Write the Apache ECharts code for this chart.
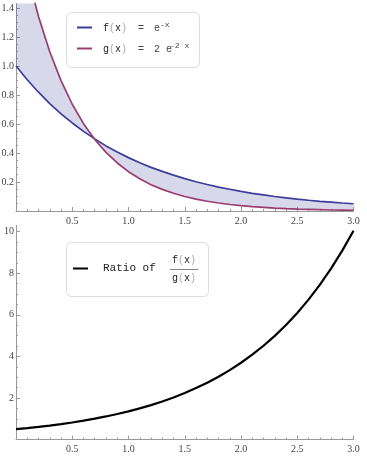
<!DOCTYPE html>
<html>
<head>
<meta charset="utf-8">
<script src="https://cdn.jsdelivr.net/npm/echarts@6/dist/echarts.min.js"></script>
<style>
html,body{margin:0;padding:0;background:#fff;}
#main{width:367px;height:461px;}
</style>
</head>
<body>
<div id="main"></div>
<script>
// x positions (read every 0.1)
var xValues = [0,0.1,0.2,0.3,0.4,0.5,0.6,0.7,0.8,0.9,1.0,1.1,1.2,1.3,1.4,1.5,1.6,1.7,1.8,1.9,2.0,2.1,2.2,2.3,2.4,2.5,2.6,2.7,2.8,2.9,3.0];
// f(x) = e^-x
var fValues = [1.000,0.905,0.819,0.741,0.670,0.607,0.549,0.497,0.449,0.407,0.368,0.333,0.301,0.273,0.247,0.223,0.202,0.183,0.165,0.150,0.135,0.122,0.111,0.100,0.091,0.082,0.074,0.067,0.061,0.055,0.050];
// g(x) = 2 e^-2x
var gValues = [2.000,1.637,1.341,1.098,0.899,0.736,0.602,0.493,0.404,0.331,0.271,0.222,0.181,0.149,0.122,0.100,0.082,0.067,0.055,0.045,0.037,0.030,0.025,0.020,0.016,0.013,0.011,0.009,0.007,0.006,0.005];
// ratio f/g
var ratioValues = [0.500,0.553,0.611,0.675,0.746,0.824,0.911,1.007,1.113,1.230,1.359,1.502,1.660,1.835,2.028,2.241,2.476,2.737,3.025,3.343,3.695,4.083,4.513,4.987,5.512,6.091,6.732,7.439,8.222,9.087,10.043];

// tick values
var topMajorTicks = [0.2,0.4,0.6,0.8,1.0,1.2,1.4];
var topMinorTicks = [0.05,0.1,0.15,0.25,0.3,0.35,0.45,0.5,0.55,0.65,0.7,0.75,0.85,0.9,0.95,1.05,1.1,1.15,1.25,1.3,1.35];
var bottomMajorTicks = [2,4,6,8,10];
var bottomMinorTicks = [0.5,1,1.5,2.5,3,3.5,4.5,5,5.5,6.5,7,7.5,8.5,9,9.5];

var blue = '#3d3d99';
var purple = '#993d71';
var axisColor = '#999999';
var labelFont = '"Liberation Serif", "DejaVu Serif", serif';
var monoFont = '"Liberation Mono", monospace';

function pairs(xs, ys){ return xs.map(function(x,i){ return [x, ys[i]]; }); }

var chart = echarts.init(document.getElementById('main'), null, {renderer:'canvas'});

function xAxisDef(gi){
  return {
    type:'value', gridIndex:gi, min:0, max:3, interval:0.5,
    axisLine:{show:true, onZero:false, lineStyle:{color:axisColor, width:1}},
    axisTick:{show:true, inside:true, length:4, lineStyle:{color:axisColor}},
    minorTick:{show:true, splitNumber:5, length:2, lineStyle:{color:axisColor}},
    splitLine:{show:false}, minorSplitLine:{show:false},
    axisLabel:{margin:5, fontFamily:labelFont, fontSize:10, color:'#444',
      formatter:function(v){ return v===0 ? '' : v.toFixed(1); }}
  };
}
function yMajor(gi, max, ticks, fmt){
  return {
    type:'value', gridIndex:gi, min:0, max:max,
    axisLine:{show:true, onZero:false, lineStyle:{color:axisColor, width:1}},
    axisTick:{show:true, inside:true, length:4, customValues:ticks, lineStyle:{color:axisColor}},
    splitLine:{show:false},
    axisLabel:{margin:2, fontFamily:labelFont, fontSize:10, color:'#444', customValues:ticks, formatter:fmt}
  };
}
function yMinor(gi, max, ticks){
  return {
    type:'value', gridIndex:gi, min:0, max:max, position:'left',
    axisLine:{show:false},
    axisTick:{show:true, inside:true, length:2, customValues:ticks, lineStyle:{color:axisColor}},
    splitLine:{show:false},
    axisLabel:{show:false}
  };
}

var richParen = {a:{fontFamily:monoFont, fontSize:10, fill:'#222'}, p:{fontFamily:monoFont, fontSize:10, fill:'#aaa'}};

var option = {
  animation:false,
  backgroundColor:'#fff',
  grid:[
    {left:16, top:3.6, width:337.5, height:207.4, containLabel:false, outerBoundsMode:'none'},
    {left:16, top:225.4, width:337.5, height:214.2, containLabel:false, outerBoundsMode:'none'}
  ],
  xAxis:[xAxisDef(0), xAxisDef(1)],
  yAxis:[
    yMajor(0, 1.43, topMajorTicks, function(v){ return v.toFixed(1); }),
    yMinor(0, 1.43, topMinorTicks),
    yMajor(1, 10.3, bottomMajorTicks, function(v){ return String(Math.round(v)); }),
    yMinor(1, 10.3, bottomMinorTicks)
  ],
  series:[
    {
      type:'custom', xAxisIndex:0, yAxisIndex:0, clip:true, z:1, silent:true,
      data:[[0,0]],
      renderItem:function(params, api){
        if (params.dataIndex !== 0) return null;
        var pts = [];
        for (var i=0;i<xValues.length;i++) pts.push(api.coord([xValues[i], fValues[i]]));
        for (var j=xValues.length-1;j>=0;j--) pts.push(api.coord([xValues[j], gValues[j]]));
        return {type:'polygon', shape:{points:pts}, style:{fill:'rgba(61,61,153,0.2)'}};
      }
    },
    {type:'line', xAxisIndex:0, yAxisIndex:0, data:pairs(xValues,fValues), showSymbol:false, symbol:'none', z:3,
      lineStyle:{color:blue, width:1.7}, clip:true},
    {type:'line', xAxisIndex:0, yAxisIndex:0, data:pairs(xValues,gValues), showSymbol:false, symbol:'none', z:3,
      lineStyle:{color:purple, width:1.7}, clip:true},
    {type:'line', xAxisIndex:1, yAxisIndex:2, data:pairs(xValues,ratioValues), showSymbol:false, symbol:'none', z:3,
      lineStyle:{color:'#000', width:2.2}, clip:false}
  ],
  graphic:[
    // top legend
    {type:'rect', z:10, shape:{x:66.5, y:12.5, width:133, height:55, r:5}, style:{fill:'#fff', stroke:'#dddddd', lineWidth:1}},
    {type:'line', z:11, shape:{x1:77, y1:27.5, x2:92, y2:27.5}, style:{stroke:blue, lineWidth:2}},
    {type:'line', z:11, shape:{x1:77, y1:48.5, x2:92, y2:48.5}, style:{stroke:purple, lineWidth:2}},
    {type:'text', z:11, style:{x:103, y:28, text:'{a|f}{p|(}{a|x}{p|)}', verticalAlign:'middle', rich:richParen}},
    {type:'text', z:11, style:{x:138, y:28, text:'=', fontFamily:monoFont, fontSize:10, fill:'#444', verticalAlign:'middle'}},
    {type:'text', z:11, style:{x:154, y:28, text:'e', fontFamily:monoFont, fontSize:10, fill:'#444', verticalAlign:'middle'}},
    {type:'text', z:11, style:{x:160, y:24.5, text:'-x', fontFamily:monoFont, fontSize:8, fill:'#444', verticalAlign:'middle'}},
    {type:'text', z:11, style:{x:103, y:49, text:'{a|g}{p|(}{a|x}{p|)}', verticalAlign:'middle', rich:richParen}},
    {type:'text', z:11, style:{x:138, y:49, text:'=', fontFamily:monoFont, fontSize:10, fill:'#444', verticalAlign:'middle'}},
    {type:'text', z:11, style:{x:154, y:49, text:'2 e', fontFamily:monoFont, fontSize:10, fill:'#444', verticalAlign:'middle'}},
    {type:'text', z:11, style:{x:170, y:45.5, text:'-2 x', fontFamily:monoFont, fontSize:8, fill:'#444', verticalAlign:'middle'}},
    // bottom legend
    {type:'rect', z:10, shape:{x:66.5, y:242.5, width:142, height:54, r:5}, style:{fill:'#fff', stroke:'#dddddd', lineWidth:1}},
    {type:'line', z:11, shape:{x1:73, y1:268.5, x2:88, y2:268.5}, style:{stroke:'#000', lineWidth:2}},
    {type:'text', z:11, style:{x:103, y:268.5, text:'Ratio of', fontFamily:monoFont, fontSize:11, fill:'#222', verticalAlign:'middle'}},
    {type:'text', z:11, style:{x:184, y:260.5, text:'{a|f}{p|(}{a|x}{p|)}', align:'center', verticalAlign:'middle', rich:richParen}},
    {type:'line', z:11, shape:{x1:170, y1:269.5, x2:198, y2:269.5}, style:{stroke:'#666', lineWidth:0.8}},
    {type:'text', z:11, style:{x:184, y:278.5, text:'{a|g}{p|(}{a|x}{p|)}', align:'center', verticalAlign:'middle', rich:richParen}}
  ]
};
chart.setOption(option);
</script>
</body>
</html>
